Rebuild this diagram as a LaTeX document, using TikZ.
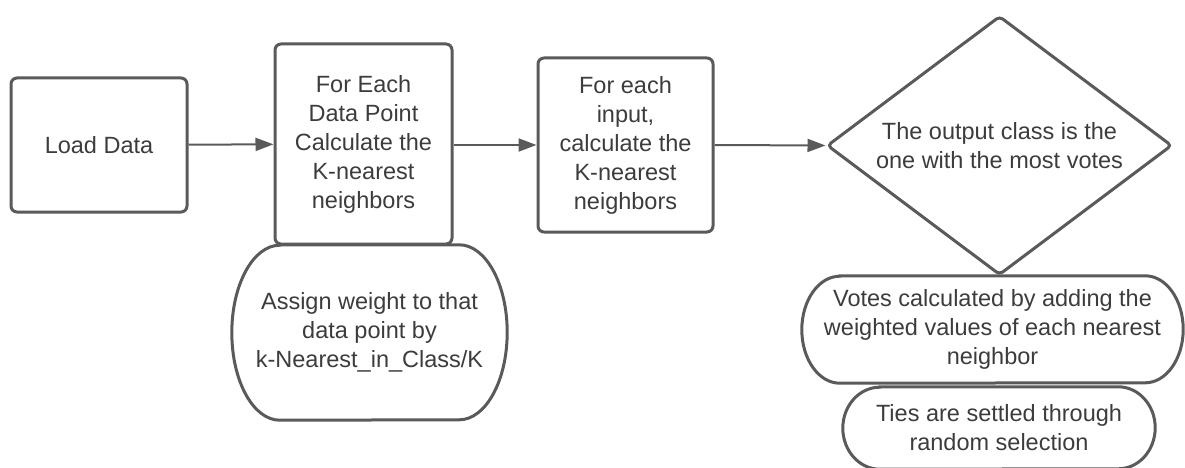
\documentclass[tikz,border=0pt]{standalone}
\usepackage{fontspec}
\setmainfont{Liberation Sans}
\usetikzlibrary{arrows.meta,shapes.geometric}

\definecolor{lineclr}{HTML}{5A5A5A}
\definecolor{textclr}{HTML}{3C3C3C}

\tikzset{
  label/.style={align=center, text=textclr, inner sep=0pt, font=\fontsize{23.5}{29}\selectfont},
  box/.style={label, draw=lineclr, line width=3pt, rounded corners=6pt},
  outline/.style={draw=lineclr, line width=3pt},
  flow/.style={draw=lineclr, line width=2pt, -{Triangle[length=18pt,width=13pt]}},
}
% flat top, elliptic ends round a node: name, x radius, y radius
\newcommand{\pill}[3]{%
  \draw[outline] ([xshift=#2pt]#1.north west) -- ([xshift=-#2pt]#1.north east)
    arc[start angle=90, end angle=-90, x radius=#2pt, y radius=#3pt]
    -- ([xshift=#2pt]#1.south west)
    arc[start angle=270, end angle=90, x radius=#2pt, y radius=#3pt] -- cycle;}

\begin{document}
\begin{tikzpicture}[x=1pt,y=-1pt]
\useasboundingbox (0,0) rectangle (1185,468);
%% steps;
\node[box, minimum width=176pt, minimum height=134pt] (load) at (99,145) {Load Data};
\node[box, minimum width=177pt, minimum height=200pt] (each) at (363.5,144) {For Each\\Data Point\\Calculate the\\K-nearest\\neighbors};
\node[box, minimum width=175pt, minimum height=174pt] (input) at (625.5,145) {For each\\input,\\calculate the\\K-nearest\\neighbors};
%% decision;
\node[box, diamond, aspect=1.33, rounded corners=4pt, minimum width=345pt, minimum height=259pt] (vote) at (999.5,145.5) {The output class is the\\one with the most votes};
%% notes;
\node[label, minimum width=275pt, minimum height=175pt] (weight) at (369.5,332.5) {Assign weight to that\\data point by\\k-Nearest\_in\_Class/K};
\pill{weight}{48}{87.5}
\node[label, minimum width=381pt, minimum height=107pt] (sum) at (992.5,329.5) {Votes calculated by adding the\\weighted values of each nearest\\neighbor};
\pill{sum}{38}{53.5}
\node[label, minimum width=312pt, minimum height=82pt] (ties) at (999,428) {Ties are settled through\\random selection};
\pill{ties}{37}{41}
%% arrows;
\draw[flow] (load) -- (each);
\draw[flow] (input.east) -- (vote.west);
\draw[flow] (each.east |- input.west) -- (input.west);
\end{tikzpicture}
\end{document}
